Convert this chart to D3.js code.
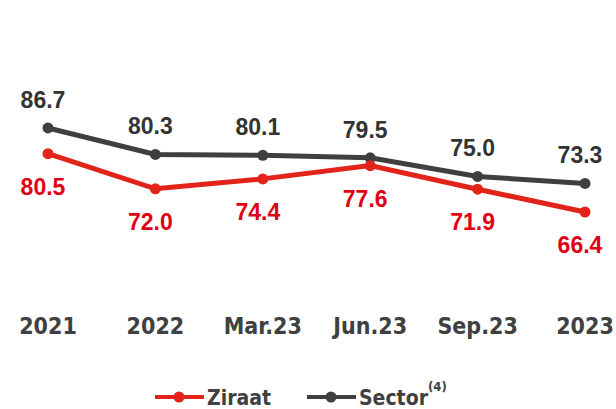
<html>
	<head>
		<script src="https://cdnjs.cloudflare.com/ajax/libs/d3/7.8.5/d3.min.js"></script>
		<style>
			body{ margin:0; background:#fff; }
			.val{ font-family:"Liberation Sans", Arial, sans-serif; font-weight:bold; font-size:23px; }
			.cat, .leg{ font-family:"DejaVu Sans Condensed", "DejaVu Sans", sans-serif; font-stretch:condensed; font-weight:bold; fill:#404040; }
		</style>
	</head>
	<body>
		<svg width="616" height="409"></svg>
		<script>
			var categories = ["2021", "2022", "Mar.23", "Jun.23", "Sep.23", "2023"];
			var ziraat = [80.5, 72.0, 74.4, 77.6, 71.9, 66.4];
			var sector = [86.7, 80.3, 80.1, 79.5, 75.0, 73.3];

			var red = "#e2231a", redText = "#e10014", grey = "#3f3f3f", greyText = "#333333";

			var svg = d3.select("svg");
			var x = d3.scalePoint().domain(categories).range([48, 585]);
			var y = d3.scaleLinear().domain([60, 90]).range([238.5, 114.3]);

			var line = d3.line()
				.x(function(d, i){ return x(categories[i]); })
				.y(function(d){ return y(d); });

			function drawSeries(values, color, textColor, labelDy){
				svg.append("path").datum(values)
					.attr("d", line)
					.attr("fill", "none")
					.attr("stroke", color)
					.attr("stroke-width", 5);
				svg.selectAll(null).data(values).enter().append("circle")
					.attr("cx", function(d, i){ return x(categories[i]); })
					.attr("cy", function(d){ return y(d); })
					.attr("r", 5.5)
					.attr("fill", color);
				svg.selectAll(null).data(values).enter().append("text")
					.attr("class", "val")
					.attr("x", function(d, i){ return x(categories[i]) - 5; })
					.attr("y", function(d){ return y(d) + labelDy; })
					.attr("text-anchor", "middle")
					.attr("fill", textColor)
					.text(function(d){ return d.toFixed(1); });
			}

			drawSeries(sector, grey, greyText, -20);
			drawSeries(ziraat, red, redText, 41);

			// category labels
			svg.selectAll(".cat").data(categories).enter().append("text")
				.attr("class", "cat")
				.attr("x", function(d){ return x(d); })
				.attr("y", 334)
				.attr("text-anchor", "middle")
				.attr("font-size", 23)
				.text(function(d){ return d; });

			// legend
			var legend = [
				{name: "Ziraat", color: red, x: 155},
				{name: "Sector", color: grey, x: 307}
			];
			legend.forEach(function(l){
				var g = svg.append("g").attr("transform", "translate(" + l.x + ",397)");
				g.append("line").attr("x1", 0).attr("x2", 49).attr("y1", 0).attr("y2", 0)
					.attr("stroke", l.color).attr("stroke-width", 4);
				g.append("circle").attr("cx", 24).attr("cy", 0).attr("r", 5.5).attr("fill", l.color);
				var t = g.append("text").attr("class", "leg")
					.attr("x", 52).attr("y", 7.5).attr("font-size", 21)
					.text(l.name);
				if(l.name === "Sector"){
					t.append("tspan").attr("dy", -14).attr("font-size", 13).text("(4)");
				}
			});
		</script>
	</body>
</html>
